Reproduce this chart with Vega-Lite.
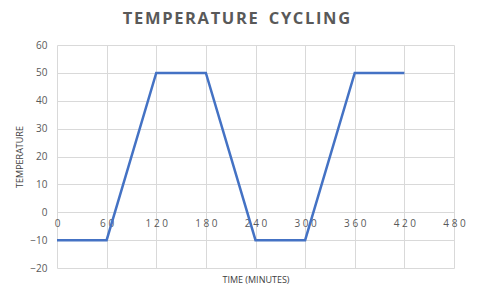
{
  "$schema": "https://vega.github.io/schema/vega-lite/v6.json",
  "autosize": {"type": "none"},
  "width": 397,
  "height": 223,
  "padding": {"left": 57, "top": 45, "right": 23, "bottom": 36},
  "background": "white",
  "title": {
    "text": "T\u200aE\u200aM\u200aP\u200aE\u200aR\u200aA\u200aT\u200aU\u200aR\u200aE\u2002\u2009C\u200aY\u200aC\u200aL\u200aI\u200aN\u200aG",
    "font": "Open Sans",
    "fontSize": 16.5,
    "fontWeight": "bold",
    "color": "#595959",
    "anchor": "middle",
    "dx": -19,
    "offset": 13
  },
  "config": {
    "view": {"stroke": null},
    "axis": {"gridColor": "#d9d9d9", "gridWidth": 1, "labelFont": "Open Sans", "titleFont": "Open Sans"}
  },
  "data": {
    "values": [
      {"time": 0, "temp": -10},
      {"time": 60, "temp": -10},
      {"time": 120, "temp": 50},
      {"time": 180, "temp": 50},
      {"time": 240, "temp": -10},
      {"time": 300, "temp": -10},
      {"time": 360, "temp": 50},
      {"time": 420, "temp": 50}
    ]
  },
  "mark": {"type": "line", "color": "#4472C4", "strokeWidth": 2.5},
  "encoding": {
    "x": {
      "field": "time",
      "type": "quantitative",
      "scale": {"domain": [0, 480], "nice": false, "zero": false},
      "axis": {
        "values": [0, 60, 120, 180, 240, 300, 360, 420, 480],
        "offset": -56,
        "domain": false,
        "ticks": false,
        "labelFlush": false,
        "labelFontSize": 10,
        "labelColor": "#595959",
        "labelPadding": 6,
        "labelExpr": "join(split(datum.label, ''), ' ')",
        "title": "TIME (MINUTES)",
        "titleFontSize": 9,
        "titleFontWeight": "normal",
        "titleColor": "#404040",
        "titleBaseline": "top",
        "titleY": 63
      }
    },
    "y": {
      "field": "temp",
      "type": "quantitative",
      "scale": {"domain": [-20, 60], "nice": false, "zero": false},
      "axis": {
        "values": [-20, -10, 0, 10, 20, 30, 40, 50, 60],
        "domain": false,
        "ticks": false,
        "labelFontSize": 10,
        "labelColor": "#595959",
        "labelPadding": 10,
        "title": "TEMPERATURE",
        "titleFontSize": 9,
        "titleFontWeight": "normal",
        "titleColor": "#404040",
        "titlePadding": 5
      }
    }
  }
}
